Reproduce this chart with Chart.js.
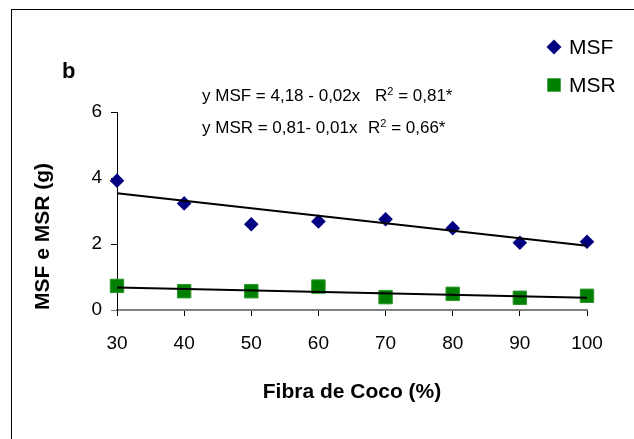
<!DOCTYPE html>
<html>
<head>
<meta charset="utf-8">
<script src="https://cdn.jsdelivr.net/npm/chart.js@4.4.1/dist/chart.umd.min.js"></script>
<style>
    html, body { margin: 0; padding: 0; background: #fff; }
    #wrap { position: relative; width: 634px; height: 439px; overflow: hidden; font-family: "Liberation Sans", Arial, sans-serif; }
    #frame { position: absolute; left: 11px; top: 9px; width: 700px; height: 500px; border-left: 1.5px solid #000; border-top: 1.5px solid #000; }
    #chart { position: absolute; left: 0; top: 0; }
    .lbl { position: absolute; white-space: nowrap; color: #000; line-height: 20px; font-size: 17px; }
    .lbl sup { font-size: 11px; vertical-align: 6px; line-height: 0; }
    #panel { position: absolute; left: 62px; top: 58px; font-size: 22px; font-weight: bold; line-height: 26px; }
</style>
</head>
<body>
<div id="wrap">
    <div id="frame"></div>
    <canvas id="chart" width="634" height="439"></canvas>
    <div id="panel">b</div>
    <div class="lbl" style="left:202px; top:86px;">y MSF = 4,18 - 0,02x</div>
    <div class="lbl" style="left:375px; top:86px;">R<sup>2</sup> = 0,81*</div>
    <div class="lbl" style="left:202px; top:118px;">y MSR = 0,81- 0,01x</div>
    <div class="lbl" style="left:368px; top:118px;">R<sup>2</sup> = 0,66*</div>
</div>
<script>
// --- DATA ---
const fibra = [30, 40, 50, 60, 70, 80, 90, 100];
const msf = [3.92, 3.23, 2.60, 2.68, 2.75, 2.48, 2.04, 2.07];
const msr = [0.73, 0.57, 0.57, 0.71, 0.39, 0.49, 0.37, 0.43];

// fitted lines, end points
const trendX = [30, 100];
const msfTrend = [3.54, 1.95];
const msrTrend = [0.68, 0.37];

const yTicks = [0, 2, 4, 6];
const xTitle = 'Fibra de Coco (%)';
const yTitle = 'MSF e MSR (g)';

const FONT = "'Liberation Sans', Arial, sans-serif";

const pts = (xs, ys) => xs.map((x, i) => ({ x: x, y: ys[i] }));

// legend drawn by hand (Excel style, top right)
const legendPlugin = {
    id: 'sideLegend',
    afterDraw(chart) {
        const ctx = chart.ctx;
        const items = [
            { ds: chart.data.datasets[0], y: 47 },
            { ds: chart.data.datasets[1], y: 85 }
        ];
        ctx.save();
        items.forEach(it => {
            ctx.fillStyle = it.ds.backgroundColor;
            ctx.beginPath();
            if (it.ds.pointStyle === 'rectRot') {
                const r = 7.5;
                ctx.moveTo(554, it.y - r);
                ctx.lineTo(554 + r, it.y);
                ctx.lineTo(554, it.y + r);
                ctx.lineTo(554 - r, it.y);
                ctx.closePath();
            } else {
                ctx.rect(554 - 6.7, it.y - 6.7, 13.4, 13.4);
            }
            ctx.fill();
            ctx.fillStyle = '#000';
            ctx.font = '21px ' + FONT;
            ctx.textBaseline = 'middle';
            ctx.fillText(it.ds.label, 569, it.y + 1);
        });
        ctx.restore();
    }
};

const chart = new Chart(document.getElementById('chart'), {
    type: 'scatter',
    data: {
        datasets: [
            {
                label: 'MSF',
                data: pts(fibra, msf),
                pointStyle: 'rectRot',
                pointRadius: 7.3,
                backgroundColor: '#000080',
                borderColor: '#000080',
                borderWidth: 0,
                clip: false,
                order: 2
            },
            {
                label: 'MSR',
                data: pts(fibra, msr),
                pointStyle: 'rect',
                pointRadius: 9.5,
                backgroundColor: '#008000',
                borderColor: '#2b962b',
                borderWidth: 1,
                clip: false,
                order: 2
            },
            {
                label: 'trend MSF',
                data: pts(trendX, msfTrend),
                showLine: true,
                borderColor: '#000',
                borderWidth: 2,
                pointRadius: 0,
                clip: false,
                order: 1
            },
            {
                label: 'trend MSR',
                data: pts(trendX, msrTrend),
                showLine: true,
                borderColor: '#000',
                borderWidth: 2,
                pointRadius: 0,
                clip: false,
                order: 1
            }
        ]
    },
    options: {
        responsive: false,
        animation: false,
        devicePixelRatio: 1,
        layout: { padding: { top: 112, right: 47, bottom: 34, left: 0 } },
        plugins: {
            legend: { display: false },
            tooltip: { enabled: false }
        },
        scales: {
            x: {
                type: 'linear',
                min: fibra[0],
                max: fibra[fibra.length - 1],
                afterBuildTicks: s => { s.ticks = fibra.map(v => ({ value: v })); },
                afterFit: s => { s.height = 95; },
                ticks: { color: '#000', padding: 16, font: { family: FONT, size: 19 } },
                grid: { drawOnChartArea: false, tickLength: 6, color: '#000' },
                border: { color: '#808080', width: 2 },
                title: {
                    display: true,
                    text: xTitle,
                    color: '#000',
                    padding: { top: 0, bottom: 0 },
                    font: { family: FONT, size: 21, weight: 'bold' }
                }
            },
            y: {
                min: yTicks[0],
                max: yTicks[yTicks.length - 1],
                afterBuildTicks: s => { s.ticks = yTicks.map(v => ({ value: v })); },
                afterFit: s => { s.width = 117; },
                ticks: { color: '#000', padding: 9, font: { family: FONT, size: 19 } },
                grid: {
                    drawOnChartArea: false,
                    tickLength: 6,
                    color: c => (c.tick && c.tick.value === 0 ? '#808080' : '#000')
                },
                border: { color: '#000', width: 1 },
                title: {
                    display: true,
                    text: yTitle,
                    align: 'start',
                    color: '#000',
                    padding: { top: 31, bottom: 0 },
                    font: { family: FONT, size: 21, weight: 'bold' }
                }
            }
        }
    },
    plugins: [legendPlugin]
});
</script>
</body>
</html>
